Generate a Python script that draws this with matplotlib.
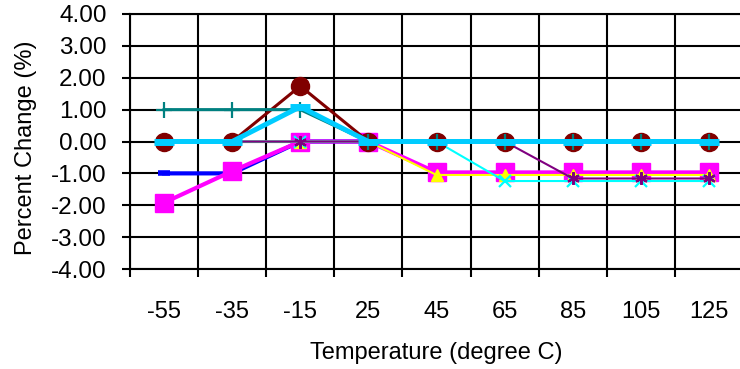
import matplotlib
matplotlib.use("Agg")
import matplotlib.pyplot as plt
import numpy as np
from matplotlib.ticker import FixedLocator, FormatStrFormatter, NullFormatter

plt.rcParams["font.family"] = ["Liberation Sans", "DejaVu Sans"]
plt.rcParams["axes.unicode_minus"] = False

# ── data ──────────────────────────────────────────────────────────────────────
temps = ["-55", "-35", "-15", "25", "45", "65", "85", "105", "125"]

blue     = [-1.00, -1.00, 0.00, 0.00, 0.00, 0.00, 0.00, 0.00, 0.00]
magenta  = [-1.92, -0.93, 0.00, 0.00, -0.97, -0.97, -0.97, -0.97, -0.97]
yellow   = [0.00, 0.00, 0.00, 0.00, -1.05, -1.05, -1.05, -1.05, -1.05]
cyan     = [0.00, 0.00, 0.00, 0.00, 0.00, -1.24, -1.24, -1.24, -1.24]
purple   = [0.00, 0.00, 0.00, 0.00, 0.00, 0.00, -1.16, -1.16, -1.16]
maroon   = [0.00, 0.00, 1.74, 0.00, 0.00, 0.00, 0.00, 0.00, 0.00]
teal     = [1.00, 1.00, 1.00, 0.00, 0.00, 0.00, 0.00, 0.00, 0.00]
skyblue  = [0.00, 0.00, 1.09, 0.00, 0.00, 0.00, 0.00, 0.00, 0.00]

# ── figure ────────────────────────────────────────────────────────────────────
W, H = 740, 369
fig = plt.figure(figsize=(W / 100, H / 100), dpi=100)
ax = fig.add_axes([130 / W, 100 / H, 613 / W, 255 / H])

x = np.arange(len(temps))

# (values, colour, marker, markersize, mew, linewidth)
series = [
    (blue,    "#0000FF", "_", 8,  4.0, 3.0),
    (magenta, "#FF00FF", "s", 13, 1.0, 3.0),
    (yellow,  "#FFFF00", "^", 8,  1.0, 1.5),
    (cyan,    "#00FFFF", "x", 8,  1.6, 1.5),
    (purple,  "#800080", (6, 2, 0), 9, 1.6, 1.5),
    (maroon,  "#800000", "o", 13, 1.0, 2.2),
    (teal,    "#008080", "+", 11, 1.6, 2.2),
    (skyblue, "#00CCFF", "_", 15, 5.0, 3.6),
]

for z, (vals, col, mk, ms, mew, lw) in enumerate(series):
    ax.plot(x, vals, color=col, lw=lw, marker=mk, ms=ms, mew=mew,
            mfc=col, mec=col, zorder=3 + z, clip_on=False)

# ── axes ──────────────────────────────────────────────────────────────────────
ax.set_xlim(-0.5, 8.5)
ax.set_ylim(-4, 4)

ax.xaxis.set_major_locator(FixedLocator(np.arange(-0.5, 9.0, 1.0)))
ax.xaxis.set_major_formatter(NullFormatter())
ax.xaxis.set_minor_locator(FixedLocator(x))
ax.set_xticklabels(temps, minor=True)
ax.tick_params(axis="x", which="minor", length=0, pad=23, labelsize=17)
ax.tick_params(axis="x", which="major", length=5.8, width=1.5, color="black")

ax.set_yticks(np.arange(-4, 5, 1))
ax.yaxis.set_major_formatter(FormatStrFormatter("%.2f"))
ax.tick_params(axis="y", length=5.8, width=1.5, pad=11, labelsize=17.5)

ax.grid(True, which="major", color="black", lw=1.5)
ax.set_axisbelow(True)

for side in ["left", "bottom", "top"]:
    ax.spines[side].set_linewidth(1.5)
ax.spines["right"].set_visible(False)

ax.set_xlabel("Temperature (degree C)", fontsize=17)
ax.xaxis.label.set_va("center")
ax.xaxis.set_label_coords(0.5, -0.329)

ax.set_ylabel("Percent Change (%)", fontsize=17)
ax.yaxis.label.set_va("center")
ax.yaxis.set_label_coords(-0.170, 0.475)

fig.savefig("out.png", dpi=100)
